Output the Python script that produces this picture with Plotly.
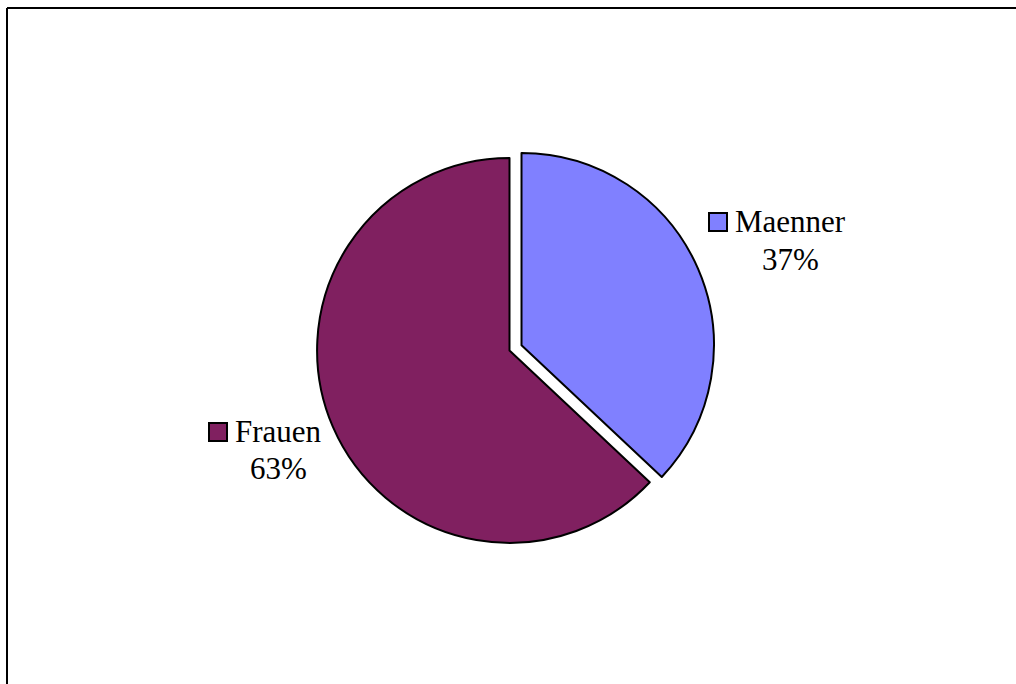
import plotly.graph_objects as go

# Data
labels = ["Maenner", "Frauen"]
values = [37, 63]
colors = ["#8080FF", "#802060"]
pulls = [0.068, 0]

W, H = 1016, 684

fig = go.Figure()
fig.add_trace(go.Pie(
    labels=labels,
    values=values,
    marker=dict(colors=colors, line=dict(color="black", width=2)),
    pull=pulls,
    sort=False,
    direction="clockwise",
    rotation=0,
    textinfo="none",
    hoverinfo="label+percent",
    showlegend=False,
    domain=dict(x=[304 / W, 715 / W], y=[128 / H, 539 / H]),
))

total = sum(values)
pcts = [f"{round(v * 100 / total)}%" for v in values]

font = dict(family="Liberation Serif, Times New Roman, serif", size=31, color="black")

# label block positions (pixel centres) and legend-key squares
label_pos = {"Maenner": (790, 221, 259), "Frauen": (278, 431, 469)}
key_pos = {"Maenner": (709, 213), "Frauen": (209, 423)}

shapes = []
annotations = []
for lab, col, pct in zip(labels, colors, pcts):
    cx, y1, y2 = label_pos[lab]
    annotations.append(dict(x=cx / W, y=1 - y1 / H, xref="paper", yref="paper",
                            text=lab, showarrow=False, xanchor="center",
                            yanchor="middle", font=font))
    annotations.append(dict(x=cx / W, y=1 - y2 / H, xref="paper", yref="paper",
                            text=pct, showarrow=False, xanchor="center",
                            yanchor="middle", font=font))
    kx, ky = key_pos[lab]
    shapes.append(dict(type="rect", xref="paper", yref="paper",
                       x0=kx / W, x1=(kx + 18) / W, y0=1 - ky / H, y1=1 - (ky + 18) / H,
                       fillcolor=col, line=dict(color="black", width=2)))

# chart frame (top and left edges)
shapes.append(dict(type="line", xref="paper", yref="paper",
                   x0=7 / W, x1=1.01, y0=1 - 8 / H, y1=1 - 8 / H,
                   line=dict(color="black", width=2)))
shapes.append(dict(type="line", xref="paper", yref="paper",
                   x0=7 / W, x1=7 / W, y0=1 - 8 / H, y1=-0.01,
                   line=dict(color="black", width=2)))

fig.update_layout(
    width=W, height=H,
    margin=dict(l=0, r=0, t=0, b=0),
    paper_bgcolor="white",
    plot_bgcolor="white",
    shapes=shapes,
    annotations=annotations,
)

fig.write_html("out.html")
